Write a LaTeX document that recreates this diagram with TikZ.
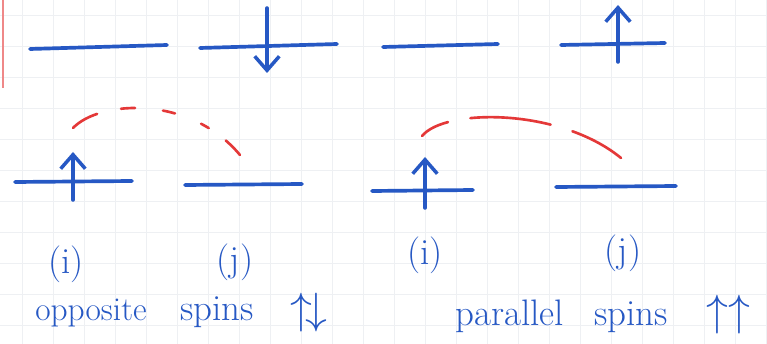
\documentclass[tikz,border=0pt]{standalone}
\usepackage{amsmath,amssymb}
\usepackage{xcolor}
\usepackage{tikz}
\usetikzlibrary{arrows.meta}

\definecolor{inkblue}{RGB}{38,88,196}
\definecolor{inkred}{RGB}{228,56,56}
\definecolor{gridgray}{RGB}{238,240,243}

\begin{document}
\begin{tikzpicture}[x=0.02cm, y=-0.02cm,
  every node/.style={font=\fontsize{21}{24}\selectfont, text=inkblue, inner sep=0pt},
  level/.style={inkblue, line width=2.1pt, line cap=round},
  spin/.style={inkblue, line width=2pt, line cap=round,
    -{Straight Barb[length=8pt,width=14pt]}},
  hop/.style={inkred, line width=1.5pt, line cap=round}]

%% ── Paper (1 unit = 1 px of the 767x344 sheet) ───────────────────────────────
\useasboundingbox (0,0) rectangle (767,344);
\fill[white] (0,0) rectangle (767,344);
\foreach \gx in {22,53,...,767}{
  \draw[gridgray, line width=0.5pt] (\gx,0) -- (\gx,344);
}
\foreach \gy in {15,46,...,344}{
  \draw[gridgray, line width=0.5pt] (0,\gy) -- (767,\gy);
}
\draw[inkred!60, line width=1.4pt] (3,0) -- (3,88);

%% ── Top row of levels ────────────────────────────────────────────────────────
\coordinate (tA-l) at (30,49);   \coordinate (tA-r) at (167,45);
\coordinate (tB-l) at (200,48);  \coordinate (tB-r) at (337,44);
\coordinate (tC-l) at (383,47);  \coordinate (tC-r) at (498,44);
\coordinate (tD-l) at (561,45);  \coordinate (tD-r) at (665,43);
\draw[level] (tA-l) -- (tA-r);
\draw[level] (tB-l) -- (tB-r);
\draw[level] (tC-l) -- (tC-r);
\draw[level] (tD-l) -- (tD-r);

%% spin down / spin up
\coordinate (tB-top) at (267,8);  \coordinate (tB-bot) at (267,73);
\coordinate (tD-bot) at (618,62); \coordinate (tD-top) at (618,5);
\draw[spin] (tB-top) -- (tB-bot);
\draw[spin] (tD-bot) -- (tD-top);

%% ── Bottom row of levels ─────────────────────────────────────────────────────
\coordinate (bA-l) at (15,182);  \coordinate (bA-r) at (132,181);
\coordinate (bB-l) at (185,185); \coordinate (bB-r) at (302,184);
\coordinate (bC-l) at (372,191); \coordinate (bC-r) at (473,190);
\coordinate (bD-l) at (556,187); \coordinate (bD-r) at (676,186);
\draw[level] (bA-l) -- (bA-r);
\draw[level] (bB-l) -- (bB-r);
\draw[level] (bC-l) -- (bC-r);
\draw[level] (bD-l) -- (bD-r);

\coordinate (bA-bot) at (73,200);  \coordinate (bA-top) at (73,152);
\coordinate (bC-bot) at (425,208); \coordinate (bC-top) at (425,157);
\draw[spin] (bA-bot) -- (bA-top);
\draw[spin] (bC-bot) -- (bC-top);

%% ── Hopping arcs (red) ───────────────────────────────────────────────────────
\coordinate (hopL-s) at (73,128);  \coordinate (hopL-e) at (240,155);
\coordinate (hopR-s) at (422,136); \coordinate (hopR-e) at (621,158);
\draw[hop, dash pattern=on 16pt off 14pt on 8pt off 16pt on 7pt off 16pt on 5pt off 12pt on 12pt]
  (hopL-s) .. controls (100,100) and (190,95) .. (hopL-e);
\draw[hop, dash pattern=on 17pt off 13pt on 46pt off 13pt on 40pt]
  (hopR-s) .. controls (445,108) and (560,108) .. (hopR-e);

%% ── Site labels ──────────────────────────────────────────────────────────────
\node (iL) at (66,264) {(i)};
\node (jL) at (235,262) {(j)};
\node (iR) at (425,255) {(i)};
\node (jR) at (623,253) {(j)};

%% ── Captions ─────────────────────────────────────────────────────────────────
\node[anchor=base west, font=\fontsize{19}{22}\selectfont] (opp) at (35,320) {opposite};
\node[anchor=base west] (spinsL) at (180,320) {spins};
\node[font=\fontsize{26}{28}\selectfont] (arrL) at (309,313) {$\uparrow\!\downarrow$};
\node[anchor=base west] (par)    at (455,325) {parallel};
\node[anchor=base west] (spinsR) at (594,325) {spins};
\node[font=\fontsize{26}{28}\selectfont] (arrR) at (728,315) {$\uparrow\uparrow$};

\end{tikzpicture}
\end{document}
